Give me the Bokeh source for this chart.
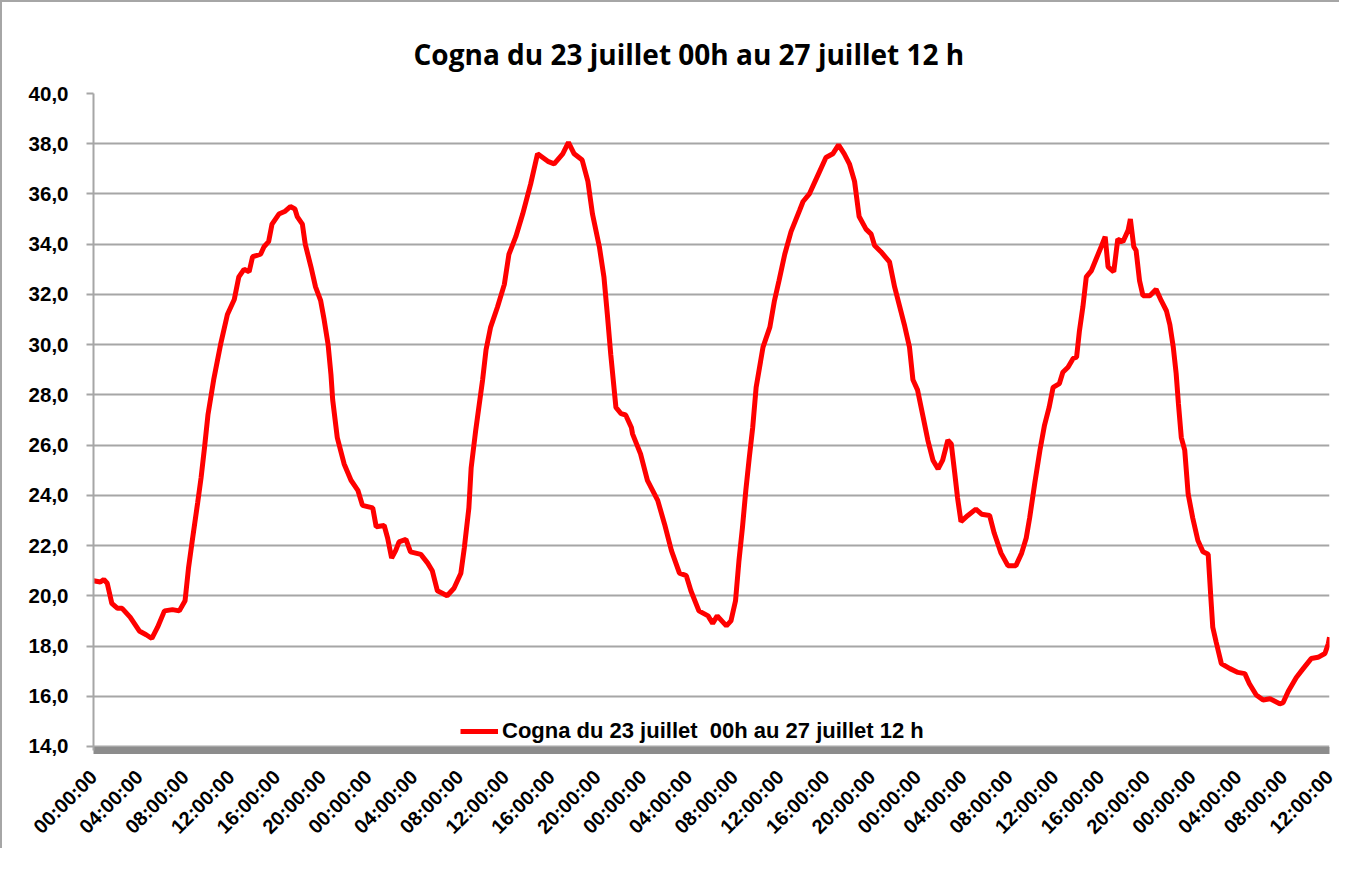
import math
from bokeh.plotting import figure
from bokeh.models import ColumnDataSource, FixedTicker, Legend, LegendItem
from bokeh.embed import file_html
from bokeh.resources import INLINE

# --- data (hours since 23 July 00h, temperature in °C) ---
hours = [0.0, 0.6, 0.9, 1.2, 1.6, 2.1, 2.5, 3.2, 4.0, 4.6, 5.1, 5.6, 6.2, 6.9, 7.5, 8.0,
         8.3, 8.6, 9.1, 9.4, 9.7, 10.0, 10.5, 11.1, 11.7, 12.3, 12.7, 13.15, 13.6, 13.9,
         14.6, 14.9, 15.3, 15.6, 16.2, 16.7, 17.2, 17.6, 17.8, 18.25, 18.5, 19.0, 19.4,
         19.85, 20.15, 20.5, 20.75, 20.9, 21.3, 21.9, 22.5, 23.1, 23.5, 24.4, 24.7, 25.4,
         25.7, 26.05, 26.4, 26.7, 27.3, 27.7, 28.6, 29.2, 29.6, 30.05, 30.9, 31.5, 32.1,
         32.4, 32.8, 33.0, 33.4, 33.7, 34.0, 34.3, 34.7, 35.3, 35.9, 36.3, 36.9, 37.5,
         38.2, 38.8, 39.7, 40.25, 41.0, 41.5, 42.0, 42.7, 43.2, 43.6, 44.2, 44.6, 44.9,
         45.2, 45.65, 46.1, 46.5, 47.0, 47.1, 47.8, 48.4, 49.3, 49.9, 50.5, 51.2, 51.8,
         52.2, 52.9, 53.7, 54.1, 54.5, 55.3, 55.7, 56.1, 56.4, 56.7, 57.0, 57.3, 57.6,
         57.9, 58.5, 59.1, 59.5, 59.9, 60.4, 60.95, 61.7, 62.0, 62.55, 63.0, 63.4, 64.0,
         64.6, 65.1, 65.6, 66.05, 66.5, 66.9, 67.5, 67.95, 68.25, 68.8, 69.55, 70.0,
         70.85, 71.3, 71.6, 72.0, 72.5, 72.9, 73.35, 73.8, 74.2, 74.65, 74.95, 75.25,
         75.5, 75.8, 76.4, 77.1, 77.6, 78.3, 78.7, 79.3, 79.9, 80.6, 81.1, 81.5, 81.8,
         82.25, 82.7, 83.1, 83.5, 83.85, 84.4, 84.7, 85.15, 85.6, 85.9, 86.15, 86.45,
         86.75, 87.2, 87.6, 88.05, 88.4, 88.65, 89.15, 89.5, 89.95, 90.4, 90.6, 90.9,
         91.1, 91.4, 91.7, 92.3, 92.85, 93.3, 93.75, 94.05, 94.35, 94.6, 94.8, 95.05,
         95.35, 95.65, 96.05, 96.5, 96.95, 97.4, 97.65, 97.8, 98.1, 98.55, 99.3, 100.0,
         100.6, 101.0, 101.6, 102.2, 102.8, 103.65, 103.95, 104.4, 105.1, 105.7, 106.4,
         107.0, 107.6, 107.9, 108.0]
temps = [20.6, 20.55, 20.65, 20.5, 19.7, 19.5, 19.5, 19.15, 18.6, 18.45, 18.3, 18.75, 19.4,
         19.45, 19.4, 19.8, 21.1, 22.1, 23.7, 24.7, 25.9, 27.2, 28.6, 30.0, 31.2, 31.8,
         32.7, 33.0, 32.9, 33.5, 33.6, 33.9, 34.1, 34.8, 35.2, 35.3, 35.5, 35.4, 35.1,
         34.8, 34.0, 33.1, 32.3, 31.75, 31.0, 30.0, 28.8, 27.8, 26.3, 25.25, 24.6, 24.2,
         23.6, 23.5, 22.75, 22.8, 22.3, 21.5, 21.8, 22.15, 22.25, 21.75, 21.65, 21.3, 21.0,
         20.2, 20.0, 20.3, 20.9, 21.9, 23.5, 25.1, 26.6, 27.6, 28.6, 29.8, 30.7, 31.5,
         32.4, 33.6, 34.3, 35.2, 36.4, 37.6, 37.3, 37.2, 37.6, 38.05, 37.6, 37.35, 36.5,
         35.2, 33.9, 32.7, 31.2, 29.6, 27.5, 27.25, 27.2, 26.7, 26.45, 25.65, 24.6, 23.8,
         22.85, 21.8, 20.9, 20.8, 20.2, 19.4, 19.2, 18.9, 19.2, 18.8, 19.0, 19.8, 21.4,
         22.7, 24.2, 25.5, 26.7, 28.3, 29.9, 30.7, 31.75, 32.55, 33.6, 34.5, 35.35, 35.7,
         36.0, 36.45, 36.85, 37.45, 37.6, 37.95, 37.6, 37.2, 36.5, 35.1, 34.6, 34.4,
         33.95, 33.7, 33.3, 32.3, 30.8, 29.9, 28.6, 28.2, 27.1, 26.2, 25.4, 25.05, 25.4,
         26.2, 26.05, 24.9, 23.9, 22.95, 23.2, 23.45, 23.25, 23.2, 22.5, 21.7, 21.2, 21.2,
         21.7, 22.3, 23.1, 24.5, 25.8, 26.8, 27.5, 28.3, 28.45, 28.9, 29.1, 29.45, 29.5,
         30.55, 31.5, 32.7, 32.95, 33.4, 33.9, 34.3, 33.1, 32.9, 34.2, 34.1, 34.55, 35.0,
         33.9, 33.75, 32.55, 31.95, 31.95, 32.2, 31.75, 31.35, 30.8, 29.9, 28.85, 27.65,
         26.3, 25.8, 24.05, 23.1, 22.2, 21.75, 21.65, 19.8, 18.75, 18.15, 17.3, 17.1,
         16.95, 16.9, 16.5, 16.05, 15.85, 15.9, 15.7, 15.75, 16.2, 16.75, 17.1, 17.5,
         17.55, 17.7, 18.1, 18.35]

x_ticks = list(range(0, 109, 4))
x_tick_labels = ["00:00:00", "04:00:00", "08:00:00", "12:00:00", "16:00:00", "20:00:00"] * 4 + \
                ["00:00:00", "04:00:00", "08:00:00", "12:00:00"]
y_ticks = [14, 16, 18, 20, 22, 24, 26, 28, 30, 32, 34, 36, 38, 40]
y_tick_labels = ["14,0", "16,0", "18,0", "20,0", "22,0", "24,0", "26,0", "28,0",
                 "30,0", "32,0", "34,0", "36,0", "38,0", "40,0"]

title_text = "Cogna du 23 juillet 00h au 27 juillet 12 h"
legend_text = "Cogna du 23 juillet  00h au 27 juillet 12 h"

source = ColumnDataSource(data=dict(h=hours, t=temps))

p = figure(frame_width=1236, frame_height=657, output_backend="svg", toolbar_location=None,
           x_range=(0, 108), y_range=(13.84, 40),
           min_border_left=91, min_border_top=91, min_border_right=10, min_border_bottom=4)
p.styles = {"border-left": "2px solid #a6a6a6", "border-top": "2px solid #a6a6a6"}

p.title.text = title_text
p.title.align = "left"
p.title.offset = 320
p.title.text_font = "Open Sans"
p.title.text_font_style = "bold"
p.title.text_font_size = "28px"
p.title.text_color = "black"
p.title.standoff = 42

p.outline_line_color = None
p.background_fill_color = "white"
p.border_fill_color = "white"

p.xgrid.grid_line_color = None
p.ygrid.grid_line_color = "#a6a6a6"
p.ygrid.grid_line_width = 2

# y axis
p.yaxis.ticker = FixedTicker(ticks=y_ticks)
p.yaxis.major_label_overrides = {v: s for v, s in zip(y_ticks, y_tick_labels)}
p.yaxis.axis_line_color = "#a6a6a6"
p.yaxis.axis_line_width = 2
p.yaxis.major_tick_line_color = "#a6a6a6"
p.yaxis.major_tick_line_width = 2
p.yaxis.major_tick_out = 7
p.yaxis.major_tick_in = 0
p.yaxis.minor_tick_line_color = None
p.yaxis.major_label_text_font = "Liberation Sans"
p.yaxis.major_label_text_font_style = "bold"
p.yaxis.major_label_text_font_size = "20.5px"
p.yaxis.major_label_text_color = "black"
p.yaxis.major_label_standoff = 18

# x axis
p.xaxis.ticker = FixedTicker(ticks=x_ticks)
p.xaxis.major_label_overrides = {v: s for v, s in zip(x_ticks, x_tick_labels)}
p.xaxis.axis_line_color = "#8c8c8c"
p.xaxis.axis_line_width = 7
p.xaxis.major_tick_line_color = None
p.xaxis.minor_tick_line_color = None
p.xaxis.major_label_orientation = math.pi / 4
p.xaxis.major_label_text_font = "Liberation Sans"
p.xaxis.major_label_text_font_style = "bold"
p.xaxis.major_label_text_font_size = "20px"
p.xaxis.major_label_text_color = "black"
p.xaxis.major_label_standoff = 17

r = p.line("h", "t", source=source, line_color="#ff0000", line_width=5)

legend = Legend(items=[LegendItem(label=legend_text, renderers=[r])],
                orientation="horizontal", location=(367, 6),
                border_line_color=None, background_fill_alpha=0,
                label_text_font="Liberation Sans", label_text_font_style="bold",
                label_text_font_size="22px", label_text_color="black",
                glyph_width=38, glyph_height=20, label_standoff=4,
                margin=0, padding=0)
p.add_layout(legend, "center")

open("out.html", "w").write(file_html(p, INLINE))
